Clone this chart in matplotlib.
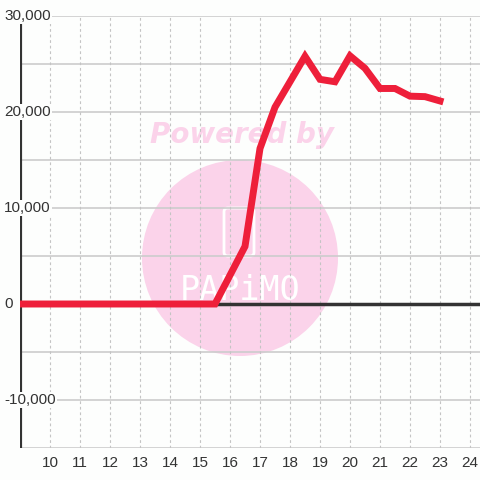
import numpy as np
import matplotlib.pyplot as plt
from matplotlib.patches import Circle, FancyBboxPatch
import matplotlib.transforms as mtransforms

# data
hours = [9, 10, 11, 12, 13, 14, 15, 15.5, 16.5, 17, 17.5, 18.5, 19, 19.5,
         20, 20.5, 21, 21.5, 22, 22.5, 23]
values = [0, 0, 0, 0, 0, 0, 0, 0, 6000, 16200, 20500, 25800, 23400, 23150,
          25850, 24550, 22450, 22450, 21650, 21600, 21150]
x_ticks = list(range(10, 25))
y_labels = [30000, 20000, 10000, 0, -10000]

bg = '#fdfefd'
fig = plt.figure(figsize=(4.8, 4.8), dpi=100, facecolor=bg)
ax = fig.add_axes([20 / 480, 32 / 480, 460 / 480, 432 / 480], facecolor=bg)
ax.set_xlim(9, 24.333)
ax.set_ylim(-15000, 30000)

# watermark (behind the grid)
ax.text(242 / 480, (480 - 135) / 480, 'Powered by', transform=fig.transFigure,
        ha='center', va='center', fontsize=20, fontweight='bold', style='italic',
        color='#fbd3ea', zorder=0.5)
ax.add_patch(Circle((240 / 480, (480 - 258) / 480), 98 / 480, transform=fig.transFigure,
                    facecolor='#fbd3ea', edgecolor='none', zorder=0.5))
ax.add_patch(FancyBboxPatch((224 / 480, (480 - 256) / 480), 30 / 480, 48 / 480,
                            boxstyle='round,pad=0,rounding_size=0.008',
                            transform=fig.transFigure, facecolor='none',
                            edgecolor='white', lw=2, zorder=0.6))
ax.text(240 / 480, (480 - 291) / 480, 'PAPiMO', transform=fig.transFigure, ha='center',
        va='center', fontsize=24, color='white', family='DejaVu Sans Mono', zorder=0.6)

# grid
for yv in range(-15000, 30001, 5000):
    ax.axhline(yv, color='#cccccc', lw=1.2, zorder=1)
for xv in x_ticks:
    ax.axvline(xv, color='#c4c4c4', lw=0.8, ls=(0, (2.5, 2.5)), zorder=1)

# zero line and left spine
ax.axhline(0, color='#333333', lw=2.5, zorder=3)
for s in ax.spines.values():
    s.set_visible(False)
ax.axvline(9, color='#333333', lw=3, zorder=3)

ax.plot(hours, values, color='#ee1f3a', lw=5, solid_joinstyle='miter', zorder=4)

ax.set_xticks(x_ticks)
ax.set_xticklabels([str(t) for t in x_ticks], family='Liberation Sans')
ax.tick_params(axis='x', length=0, pad=6, labelsize=11, labelcolor='#333333')
ax.set_yticks([])

trans = mtransforms.blended_transform_factory(fig.transFigure, ax.transData)
for yv in y_labels:
    ax.text(4 / 480, yv, f'{yv:,}', transform=trans, ha='left', va='center',
            fontsize=11, color='#333333', family='Liberation Sans', zorder=5,
            clip_on=False, bbox=dict(facecolor=bg, edgecolor='none', pad=1))

fig.savefig('out.png', dpi=100, facecolor=bg)
